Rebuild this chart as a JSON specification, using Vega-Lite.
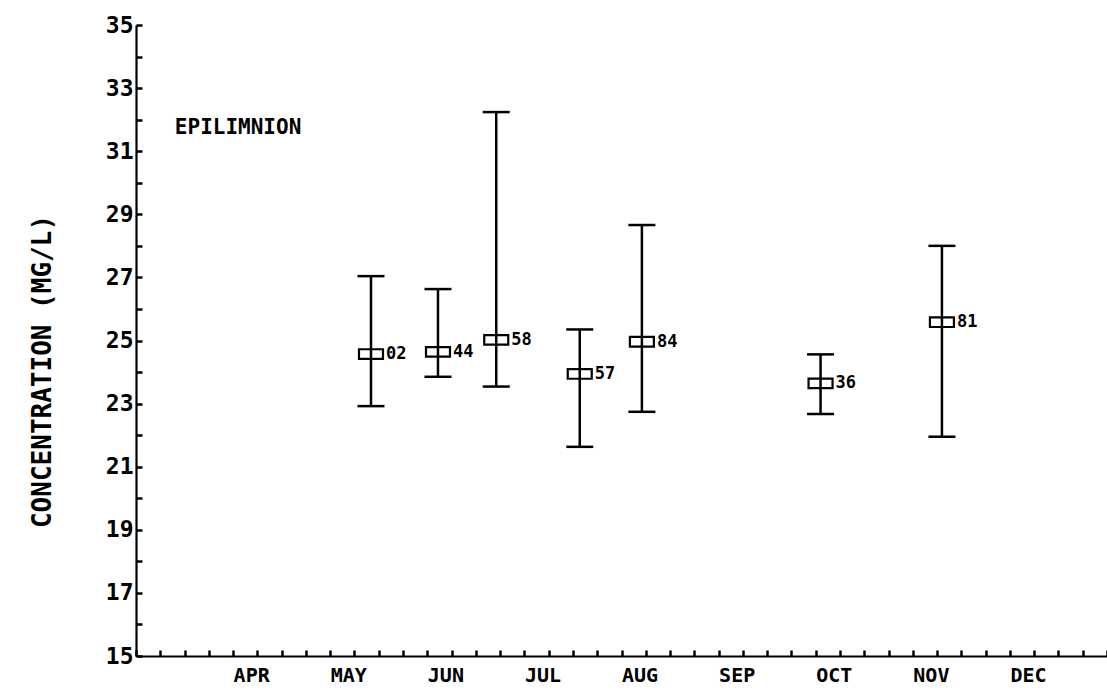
{
  "$schema": "https://vega.github.io/schema/vega-lite/v6.json",
  "width": 971,
  "height": 631,
  "autosize": "none",
  "padding": {"left": 136, "top": 25, "right": 0, "bottom": 36},
  "background": "white",
  "config": {"view": {"stroke": null}, "font": "DejaVu Sans Mono"},
  "datasets": {
    "stats": [
      {"month": 5.42, "mean": 24.57, "lo": 22.92, "hi": 27.04, "label": "02"},
      {"month": 6.11, "mean": 24.64, "lo": 23.85, "hi": 26.63, "label": "44"},
      {"month": 6.71, "mean": 25.02, "lo": 23.54, "hi": 32.24, "label": "58"},
      {"month": 7.57, "mean": 23.94, "lo": 21.63, "hi": 25.35, "label": "57"},
      {"month": 8.21, "mean": 24.96, "lo": 22.74, "hi": 28.66, "label": "84"},
      {"month": 10.05, "mean": 23.64, "lo": 22.67, "hi": 24.56, "label": "36"},
      {"month": 11.30, "mean": 25.58, "lo": 21.95, "hi": 28.0, "label": "81"}
    ],
    "notes": [
      {"month": 3.40, "value": 31.75, "text": "EPILIMNION"}
    ]
  },
  "layer": [
    {
      "data": {"name": "stats"},
      "mark": {"type": "point", "shape": "M-1,-0.4L1,-0.4L1,0.4L-1,0.4Z", "size": 576, "filled": true, "fill": "white", "stroke": "black", "strokeWidth": 2.2, "opacity": 1},
      "encoding": {
        "x": {
          "field": "month", "type": "quantitative",
          "scale": {"domain": [3, 13], "nice": false, "zero": false},
          "axis": {
            "title": null,
            "tickCount": 200,
            "values": [3, 3.25, 3.5, 3.75, 4, 4.25, 4.5, 4.75, 5, 5.25, 5.5, 5.75, 6, 6.25, 6.5, 6.75, 7, 7.25, 7.5, 7.75, 8, 8.25, 8.5, 8.75, 9, 9.25, 9.5, 9.75, 10, 10.25, 10.5, 10.75, 11, 11.25, 11.5, 11.75, 12, 12.25, 12.5, 12.75, 13],
            "labelExpr": "datum.value % 1 == 0 ? ['','','','','APR','MAY','JUN','JUL','AUG','SEP','OCT','NOV','DEC','',''][datum.value] : ''",
            "labelAlign": "left",
            "labelBaseline": "top",
            "labelFont": "DejaVu Sans Mono",
            "labelFontWeight": "bold",
            "labelFontSize": 20,
            "labelColor": "black",
            "labelPadding": 15,
            "labelOverlap": false,
            "labelFlush": false,
            "domainColor": "black",
            "domainWidth": 2.2,
            "tickColor": "black",
            "tickWidth": 2.5,
            "tickSize": -6,
            "grid": false
          }
        },
        "y": {
          "field": "mean", "type": "quantitative",
          "scale": {"domain": [15, 35], "nice": false, "zero": false},
          "axis": {
            "title": "CONCENTRATION (MG/L)",
            "titleFont": "DejaVu Sans Mono",
            "titleFontWeight": "bold",
            "titleFontSize": 26,
            "titleColor": "black",
            "titleX": -94,
            "titleY": 346,
            "titleAngle": -90,
            "titleAlign": "center",
            "titleBaseline": "middle",
            "tickCount": 200,
            "format": "d",
            "values": [15, 16, 17, 18, 19, 20, 21, 22, 23, 24, 25, 26, 27, 28, 29, 30, 31, 32, 33, 34, 35],
            "labelExpr": "datum.value % 2 == 1 ? format(datum.value, 'd') : ''",
            "labelFont": "DejaVu Sans Mono",
            "labelFontWeight": "bold",
            "labelFontSize": 23,
            "labelColor": "black",
            "labelPadding": 9,
            "labelOverlap": false,
            "labelFlush": false,
            "domainColor": "black",
            "domainWidth": 2.2,
            "tickColor": "black",
            "tickWidth": 2.5,
            "tickSize": -6,
            "grid": false
          }
        }
      }
    },
    {
      "data": {"name": "stats"},
      "mark": {"type": "rule", "color": "black", "strokeWidth": 2.5},
      "encoding": {
        "x": {"field": "month", "type": "quantitative"},
        "y": {"field": "lo", "type": "quantitative"},
        "y2": {"field": "hi"}
      }
    },
    {
      "data": {"name": "stats"},
      "mark": {"type": "tick", "orient": "horizontal", "color": "black", "size": 27, "thickness": 2.5, "opacity": 1},
      "encoding": {
        "x": {"field": "month", "type": "quantitative"},
        "y": {"field": "lo", "type": "quantitative"}
      }
    },
    {
      "data": {"name": "stats"},
      "mark": {"type": "tick", "orient": "horizontal", "color": "black", "size": 27, "thickness": 2.5, "opacity": 1},
      "encoding": {
        "x": {"field": "month", "type": "quantitative"},
        "y": {"field": "hi", "type": "quantitative"}
      }
    },
    {
      "data": {"name": "stats"},
      "mark": {"type": "text", "align": "left", "baseline": "middle", "dx": 15, "font": "DejaVu Sans Mono", "fontWeight": "bold", "fontSize": 17, "color": "black"},
      "encoding": {
        "x": {"field": "month", "type": "quantitative"},
        "y": {"field": "mean", "type": "quantitative"},
        "text": {"field": "label"}
      }
    },
    {
      "data": {"name": "notes"},
      "mark": {"type": "text", "align": "left", "baseline": "middle", "font": "DejaVu Sans Mono", "fontWeight": "bold", "fontSize": 21, "color": "black"},
      "encoding": {
        "x": {"field": "month", "type": "quantitative"},
        "y": {"field": "value", "type": "quantitative"},
        "text": {"field": "text"}
      }
    }
  ]
}
